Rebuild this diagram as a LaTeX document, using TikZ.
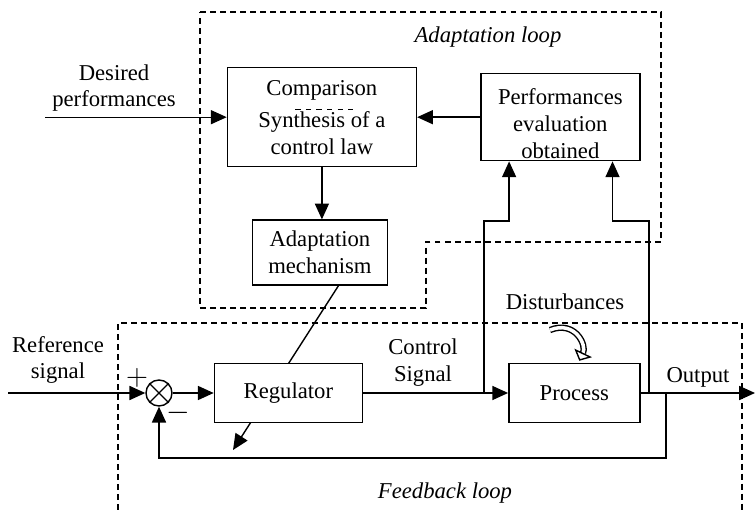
\documentclass[tikz,border=0pt]{standalone}
\usepackage{fontspec}
\setmainfont{Liberation Serif}
\usetikzlibrary{positioning, arrows.meta, calc, backgrounds}

\newcommand{\dfont}{\fontsize{12.9}{15.3}\selectfont}

\begin{document}
\begin{tikzpicture}[
		node distance=1.0cm,
		font=\dfont,
		% --- STYLES ---
		block/.style={
			rectangle, draw, line width=0.8pt, fill=white,
			align=center, inner sep=1pt
		},
		sumnode/.style={
			circle, draw, line width=0.8pt, fill=white,
			minimum size=0.52cm, inner sep=0pt
		},
		line/.style={
			draw, line width=0.8pt, -{Triangle[length=9pt,width=8pt]}
		},
		plain/.style={
			draw, line width=0.8pt
		},
		loopbox/.style={
			draw, line width=0.8pt, dash pattern=on 3.4pt off 2.3pt
		},
		lbl/.style={
			align=center, inner sep=0pt
		},
		sign/.style={
			inner sep=0pt, font=\fontsize{16}{16}\selectfont
		},
		dist/.style={
			draw, double, double distance=2pt, line width=0.8pt,
			-{Triangle[open,length=5pt,width=11pt]}
		}
		]
		
		\useasboundingbox (0,0) rectangle (15.1,-10.2);
		
		% --- 1. Feedback loop (bottom row) ---
		\node [sumnode] (sum) at (3.18,-7.86) {};
		\draw [plain] (sum.north west) -- (sum.south east)
		              (sum.north east) -- (sum.south west);
		
		\node [block, minimum width=2.96cm, minimum height=1.18cm, right=0.82cm of sum] (reg) {Regulator};
		\node [block, minimum width=2.62cm, minimum height=1.18cm, right=2.9cm of reg] (proc) {Process};
		
		% --- 2. Adaptation loop (upper blocks) ---
		\node [block, minimum width=2.7cm, minimum height=1.3cm, above=1.54cm of reg, xshift=0.63cm] (adapt) {Adaptation\\mechanism};
		\node [block, minimum width=3.78cm, minimum height=1.98cm, above=1.04cm of adapt, xshift=0.04cm] (comp) {Comparison\\[3pt]Synthesis of a\\control law};
		\node [block, minimum width=3.18cm, minimum height=1.74cm, right=1.26cm of comp,
		       label={[lbl, yshift=-0.13cm]center:Performances\\evaluation\\obtained}] (perf) {};
		
		% small dashed separator inside the comparison block
		\draw [dashed, line width=0.6pt] ($(comp.center)+(-0.53,0.15)$) -- ++(1.16,0);
		
		% --- 3. Dashed loop frames ---
		\draw [loopbox] (4.0,-0.24) -- (13.22,-0.24) -- (13.22,-4.84) -- (8.52,-4.84)
		                -- (8.52,-6.16) -- (4.0,-6.16) -- cycle;
		\draw [loopbox] (2.36,-10.2) -- (2.36,-6.46) -- (14.84,-6.46) -- (14.84,-10.2);
		
		% --- 4. Connections ---
		% inputs
		\coordinate (des_in) at (0.9,0 |- comp.west);
		\draw [line, line width=0.6pt] (des_in) -- (comp.west);
		\coordinate (ref_in) at (0.16,0 |- sum.west);
		\draw [line] (ref_in) -- (sum.west);
		
		% forward path
		\draw [line] (sum.east) -- (reg.west);
		\draw [line] (reg.east) -- (proc.west);
		\coordinate (out_end) at (15.1,0 |- proc.east);
		\draw [line] (proc.east) -- (out_end);
		
		% feedback to the comparator
		\coordinate (fb_split) at (13.32,0 |- proc.east);
		\draw [line] (fb_split) -- ++(0,-1.3) -| (sum.south);
		
		% measurements going up to the evaluation block
		\coordinate (tap1) at (9.68,0 |- reg.east);
		\coordinate (tap2) at (12.98,0 |- proc.east);
		\draw [line] (tap1) -- (tap1 |- 0,-4.42) -| ($(perf.south west)+(0.58,0)$);
		\draw [line] (tap2) -- (tap2 |- 0,-4.42) -| ($(perf.south east)+(-0.56,0)$);
		
		% adaptation loop internals
		\draw [line] (perf.west) -- (comp.east);
		\draw [line] (comp.south) -- (comp.south |- adapt.north);
		
		% the adaptation mechanism acts across the regulator
		\begin{scope}[on background layer]
			\draw [line] ($(adapt.south)+(0.37,0)$) -- (4.66,-9.0);
		\end{scope}
		
		% disturbance on the process
		\coordinate (dist_start) at (11.0,-6.6);
		\coordinate (dist_end) at ($(proc.north)+(0.1,0.04)$);
		\draw [dist] (dist_start) .. controls (11.5,-6.4) and (11.74,-6.9) .. (dist_end);
		
		% --- 5. Labels ---
		\node [lbl] (des_lbl) at (2.28,-1.76) {Desired\\performances};
		\node [lbl] (ref_lbl) at (1.16,-7.2) {Reference\\signal};
		\node [sign] (plus) at (2.74,-7.56) {$+$};
		\node [sign] (minus) at (3.56,-8.26) {$-$};
		\node [lbl] (ctrl_lbl) at (8.46,-7.26) {Control\\Signal};
		\node [lbl] (dist_lbl) at (11.3,-6.04) {Disturbances};
		\node [lbl] (out_lbl) at (13.96,-7.54) {Output};
		\node [lbl, font=\dfont\itshape] (adapt_lbl) at (9.76,-0.74) {Adaptation loop};
		\node [lbl, font=\dfont\itshape] (fb_lbl) at (8.9,-9.86) {Feedback loop};
		
	\end{tikzpicture}
\end{document}
